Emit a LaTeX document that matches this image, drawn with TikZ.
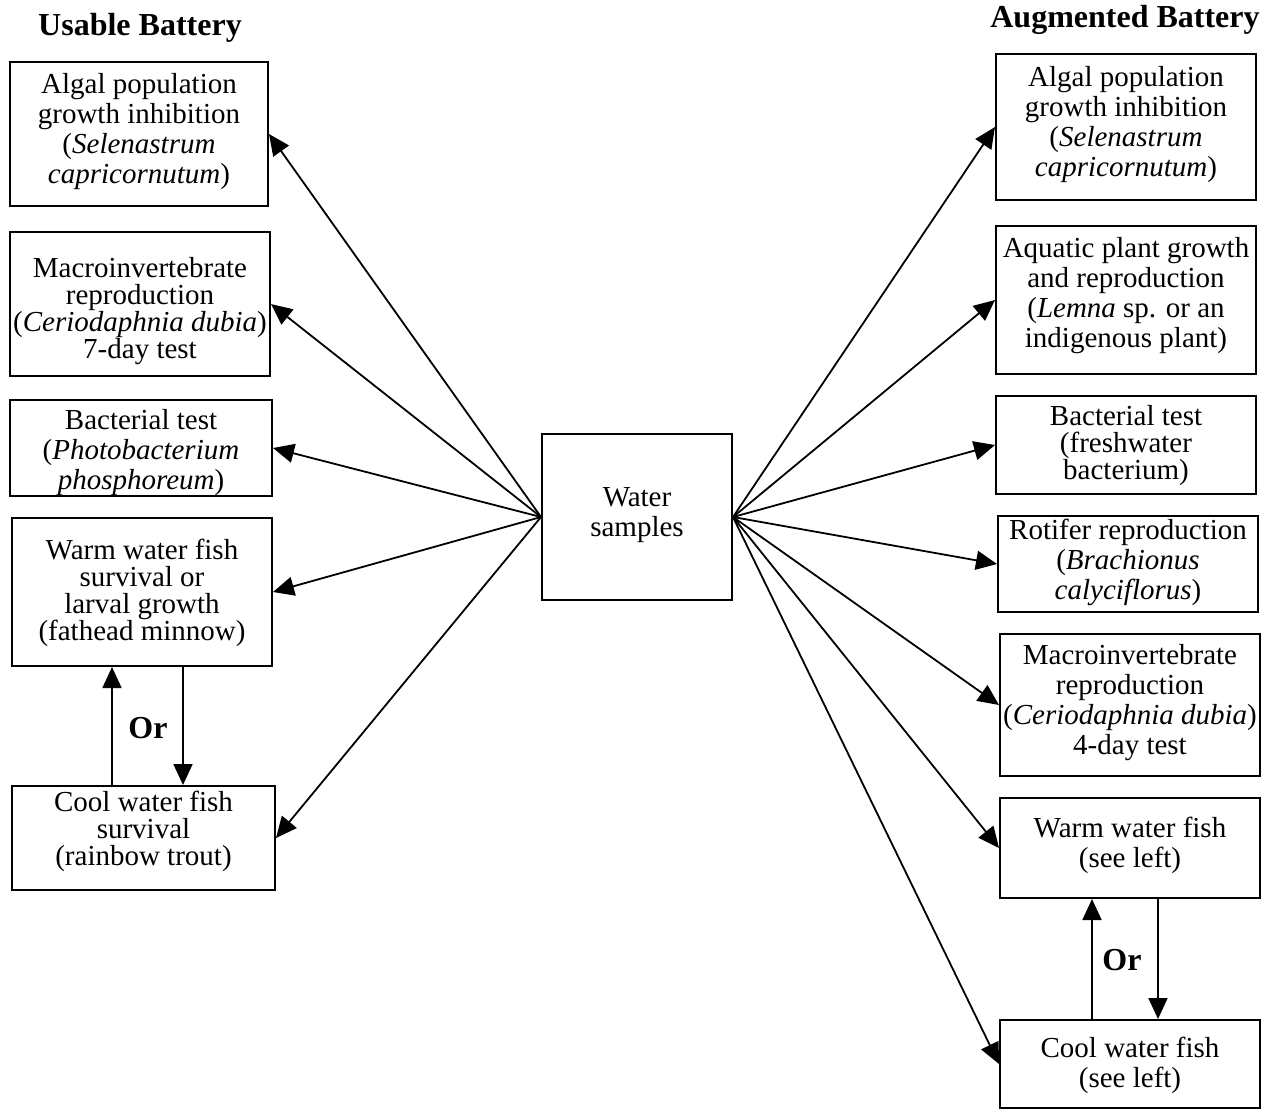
\documentclass[tikz,border=0pt]{standalone}
\usepackage{fontspec}
\setmainfont{Liberation Serif}
\usetikzlibrary{arrows.meta}

\tikzset{
  frame/.style={draw, line width=1pt, inner sep=0pt},
  txt/.style={inner sep=0pt, align=center, font=\fontsize{14.5}{15}\selectfont},
  tight/.style={font=\fontsize{14.5}{13.5}\selectfont},
  head/.style={font=\fontsize{16}{18}\selectfont\bfseries},
  arr/.style={line width=0.9pt, -{Triangle[length=10.5pt,width=9.5pt]}},
}

\begin{document}
\begin{tikzpicture}[x=0.5pt, y=-0.5pt]
  \useasboundingbox (0,0) rectangle (1270,1116);

  % headings
  \node[head] (hL) at (140,28) {Usable Battery};
  \node[head] (hR) at (1125,20) {Augmented Battery};

  % centre
  \node[frame, minimum width=95pt, minimum height=83pt] (ws) at (637,517) {};
  \node[txt] (wst) at (637,515) {Water\\samples};

  % usable battery
  \node[frame, minimum width=129pt, minimum height=72pt] (L1) at (139,134) {};
  \node[txt] (L1t) at (139,132)
    {Algal population\\growth inhibition\\(\textit{Selenastrum}\\\textit{capricornutum})};
  \node[frame, minimum width=130pt, minimum height=72pt] (L2) at (140,304) {};
  \node[txt, tight] (L2t) at (140,311.5)
    {Macroinvertebrate\\reproduction\\(\textit{Ceriodaphnia dubia})\\7-day test};
  \node[frame, minimum width=131pt, minimum height=48pt] (L3) at (141,448) {};
  \node[txt] (L3t) at (141,452.5)
    {Bacterial test\\(\textit{Photobacterium}\\\textit{phosphoreum})};
  \node[frame, minimum width=130pt, minimum height=74pt] (L4) at (142,592) {};
  \node[txt, tight] (L4t) at (142,592.5)
    {Warm water fish\\survival or\\larval growth\\(fathead minnow)};
  \node[frame, minimum width=131.5pt, minimum height=52pt] (L5) at (143.5,838) {};
  \node[txt, tight] (L5t) at (143.5,831.5)
    {Cool water fish\\survival\\(rainbow trout)};

  % augmented battery
  \node[frame, minimum width=130pt, minimum height=73pt] (R1) at (1126,127) {};
  \node[txt] (R1t) at (1126,125)
    {Algal population\\growth inhibition\\(\textit{Selenastrum}\\\textit{capricornutum})};
  \node[frame, minimum width=130pt, minimum height=74pt] (R2) at (1126,300) {};
  \node[txt] (R2t) at (1126,296)
    {Aquatic plant growth\\and reproduction\\(\textit{Lemna} sp. or an\\indigenous plant)};
  \node[frame, minimum width=130pt, minimum height=49pt] (R3) at (1126,445) {};
  \node[txt, tight] (R3t) at (1126,446)
    {Bacterial test\\(freshwater\\bacterium)};
  \node[frame, minimum width=130pt, minimum height=48pt] (R4) at (1128,564) {};
  \node[txt] (R4t) at (1128,562.5)
    {Rotifer reproduction\\(\textit{Brachionus}\\\textit{calyciflorus})};
  \node[frame, minimum width=130pt, minimum height=71pt] (R5) at (1130,705) {};
  \node[txt] (R5t) at (1130,703)
    {Macroinvertebrate\\reproduction\\(\textit{Ceriodaphnia dubia})\\4-day test};
  \node[frame, minimum width=130pt, minimum height=50pt] (R6) at (1130,848) {};
  \node[txt] (R6t) at (1130,845) {Warm water fish\\(see left)};
  \node[frame, minimum width=130pt, minimum height=44pt] (R7) at (1130,1064) {};
  \node[txt] (R7t) at (1130,1065) {Cool water fish\\(see left)};

  % spokes from the water samples
  \foreach \t in {L1,L2,L3,L4,L5}
    \draw[arr] (ws.west) -- (\t.east);
  \foreach \t in {R1,R2,R3,R4,R5,R6,R7}
    \draw[arr] (ws.east) -- (\t.west);

  % alternative fish tests
  \coordinate (lu) at (112,0);
  \coordinate (ld) at (183,0);
  \coordinate (ru) at (1092,0);
  \coordinate (rd) at (1158,0);
  \draw[arr] (L5.north -| lu) -- (L4.south -| lu);
  \draw[arr] (L4.south -| ld) -- (L5.north -| ld);
  \draw[arr] (R7.north -| ru) -- (R6.south -| ru);
  \draw[arr] (R6.south -| rd) -- (R7.north -| rd);
  \node[head] (orL) at (148,728) {Or};
  \node[head] (orR) at (1122,960) {Or};
\end{tikzpicture}
\end{document}
